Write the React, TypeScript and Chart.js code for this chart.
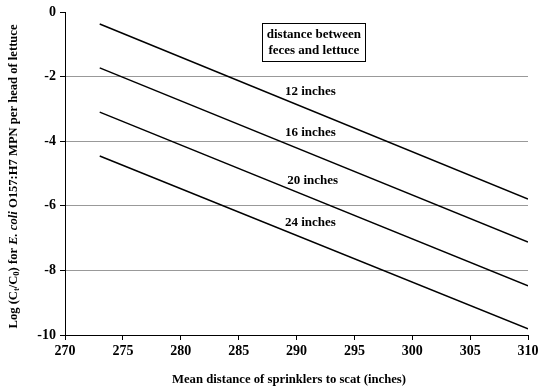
import React, { useEffect, useRef } from 'react';
import { Chart, registerables } from 'chart.js';

Chart.register(...registerables);

// Data
const xPoints = [273, 310];
const series12 = [-0.37, -5.79];
const series16 = [-1.73, -7.12];
const series20 = [-3.1, -8.48];
const series24 = [-4.46, -9.81];
const seriesLabels = ['12 inches', '16 inches', '20 inches', '24 inches'];
// label anchor positions in data units
const labelX = [291.2, 291.2, 291.4, 291.2];
const labelY = [-2.48, -3.75, -5.23, -6.53];
const legendLines = ['distance between', 'feces and lettuce'];
const legendAnchor = [291.5, -0.93];
const xTicks = [270, 275, 280, 285, 290, 295, 300, 305, 310];
const yTicks = [0, -2, -4, -6, -8, -10];

const FONT = '"Liberation Serif", "Times New Roman", serif';

const annotationPlugin = {
  id: 'annotations',
  afterDraw(chart: any) {
    const ctx = chart.ctx;
    const xs = chart.scales.x;
    const ys = chart.scales.y;
    ctx.save();
    ctx.fillStyle = '#000';
    ctx.textAlign = 'center';
    ctx.textBaseline = 'middle';
    ctx.font = `bold 13px ${FONT}`;
    seriesLabels.forEach((t, i) => {
      ctx.fillText(t, xs.getPixelForValue(labelX[i]), ys.getPixelForValue(labelY[i]));
    });
    // legend box
    const cx = xs.getPixelForValue(legendAnchor[0]);
    const cy = ys.getPixelForValue(legendAnchor[1]);
    const bw = 103, bh = 38;
    ctx.strokeStyle = '#000';
    ctx.lineWidth = 1;
    ctx.strokeRect(Math.round(cx - bw / 2) + 0.5, Math.round(cy - bh / 2) + 0.5, bw, bh);
    ctx.fillText(legendLines[0], cx, cy - 7);
    ctx.fillText(legendLines[1], cx, cy + 9);

    // x title
    ctx.font = `bold 12.7px ${FONT}`;
    ctx.fillText('Mean distance of sprinklers to scat (inches)', 289, 380);

    // y title with mixed styles
    const parts: { t: string; f: string; dy: number }[] = [
      { t: 'Log (C', f: `bold 12.6px ${FONT}`, dy: 0 },
      { t: 't', f: `bold 8.5px ${FONT}`, dy: 3 },
      { t: '/C', f: `bold 12.6px ${FONT}`, dy: 0 },
      { t: '0', f: `bold 8.5px ${FONT}`, dy: 3 },
      { t: ') for ', f: `bold 12.6px ${FONT}`, dy: 0 },
      { t: 'E. coli', f: `italic bold 12.6px ${FONT}`, dy: 0 },
      { t: ' O157:H7 MPN per head of lettuce', f: `bold 12.6px ${FONT}`, dy: 0 },
    ];
    let total = 0;
    parts.forEach((p) => {
      ctx.font = p.f;
      total += ctx.measureText(p.t).width;
    });
    ctx.translate(14, 176.5);
    ctx.rotate(-Math.PI / 2);
    ctx.textAlign = 'left';
    let px = -total / 2;
    parts.forEach((p) => {
      ctx.font = p.f;
      ctx.fillText(p.t, px, p.dy);
      px += ctx.measureText(p.t).width;
    });
    ctx.restore();
  },
};

export default function App() {
  const ref = useRef<HTMLCanvasElement>(null);
  useEffect(() => {
    if (!ref.current) return;
    Chart.defaults.color = '#000';
    const mk = (data: number[], label: string) => ({
      label,
      data: xPoints.map((x, i) => ({ x, y: data[i] })),
      borderColor: '#000',
      backgroundColor: '#000',
      borderWidth: 1.5,
      pointRadius: 0,
      fill: false,
      tension: 0,
    });
    const chart = new Chart(ref.current, {
      type: 'line',
      data: {
        datasets: [
          mk(series12, seriesLabels[0]),
          mk(series16, seriesLabels[1]),
          mk(series20, seriesLabels[2]),
          mk(series24, seriesLabels[3]),
        ],
      },
      options: {
        animation: false,
        responsive: false,
        layout: { padding: { top: 12, right: 10, left: 0, bottom: 0 } },
        plugins: { legend: { display: false }, tooltip: { enabled: false } },
        scales: {
          x: {
            type: 'linear',
            min: 270,
            max: 310,
            afterBuildTicks: (s: any) => {
              s.ticks = xTicks.map((v) => ({ value: v }));
            },
            afterFit: (s: any) => {
              s.height = 53;
              s.paddingLeft = 0;
              s.paddingRight = 0;
            },
            border: { color: '#000', width: 1 },
            grid: {
              drawOnChartArea: false,
              tickColor: '#000',
              tickLength: 5,
            },
            ticks: {
              font: { family: FONT, size: 14, weight: 'bold' },
              color: '#000',
              padding: 3,
              maxRotation: 0,
            },
          },
          y: {
            type: 'linear',
            min: -10,
            max: 0,
            afterBuildTicks: (s: any) => {
              s.ticks = yTicks.map((v) => ({ value: v }));
            },
            afterFit: (s: any) => {
              s.width = 65;
              s.paddingTop = 0;
              s.paddingBottom = 0;
            },
            border: { color: '#000', width: 1 },
            grid: {
              color: (c: any) => (c.tick && (c.tick.value === 0 || c.tick.value === -10) ? 'rgba(0,0,0,0)' : '#999'),
              tickColor: '#000',
              tickLength: 5,
              lineWidth: 1,
            },
            ticks: {
              font: { family: FONT, size: 14, weight: 'bold' },
              color: '#000',
              padding: 4,
            },
          },
        },
      },
      plugins: [annotationPlugin],
    } as any);
    return () => chart.destroy();
  }, []);
  return (
    <div style={{ position: 'fixed', left: 0, top: 0, width: 538, height: 388, background: '#fff' }}>
      <canvas ref={ref} width={538} height={388} style={{ display: 'block' }} />
    </div>
  );
}
